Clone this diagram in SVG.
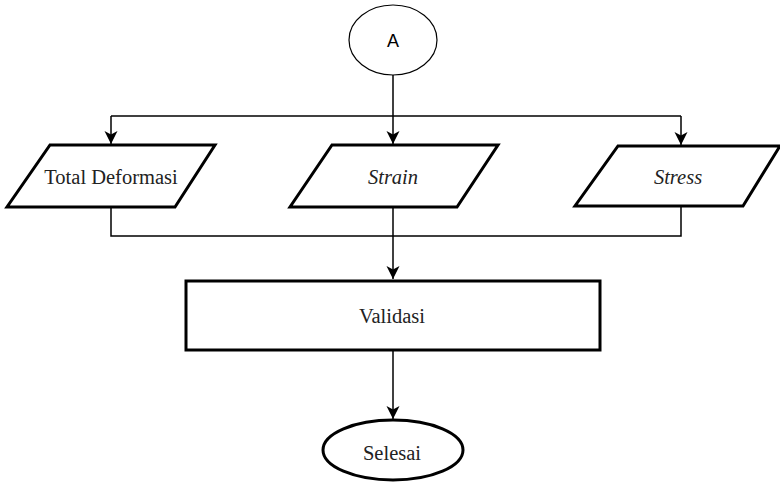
<svg xmlns="http://www.w3.org/2000/svg" width="780" height="484" viewBox="0 0 780 484">
<style>
.shape{fill:#fff;stroke:#000;stroke-width:3}
.thin{fill:#fff;stroke:#000;stroke-width:1.2}
.conn{fill:none;stroke:#000;stroke-width:1.5}
.serif{font-family:"Liberation Serif","Times New Roman",serif;font-size:20.5px;fill:#222;text-anchor:middle}
.it{font-style:italic}
.sans{font-family:"Liberation Sans",Arial,sans-serif;font-size:18px;fill:#000;text-anchor:middle}
</style>
<defs>
<marker id="arr" markerUnits="userSpaceOnUse" markerWidth="16" markerHeight="16" viewBox="-1 -8 16 16" refX="13" refY="0" orient="auto">
<path d="M0,-6.5 L13,0 L0,6.5 L3.5,0 z" fill="#000"/>
</marker>
</defs>
<rect width="780" height="484" fill="#fff"/>
<g id="connectors">
<path class="conn" d="M393,75 V144" marker-end="url(#arr)"/>
<path class="conn" d="M111,116 H681"/>
<path class="conn" d="M111,116 V144" marker-end="url(#arr)"/>
<path class="conn" d="M681,116 V145" marker-end="url(#arr)"/>
<path class="conn" d="M111,207 V236 H681 V205"/>
<path class="conn" d="M393,207 V279" marker-end="url(#arr)"/>
<path class="conn" d="M393,351 V419" marker-end="url(#arr)"/>
</g>
<g id="nodeA">
<ellipse class="thin" cx="393" cy="40" rx="44" ry="35"/>
<text class="sans" x="393" y="47">A</text>
</g>
<g id="nodeTotal">
<polygon class="shape" points="50,145 215,145 175,207 7,207"/>
<text class="serif" x="111" y="184">Total Deformasi</text>
</g>
<g id="nodeStrain">
<polygon class="shape" points="332,145 498,145 457,207 290,207"/>
<text class="serif it" x="393" y="184">Strain</text>
</g>
<g id="nodeStress">
<polygon class="shape" points="618,146 780,146 743,206 575,206"/>
<text class="serif it" x="678" y="184">Stress</text>
</g>
<g id="nodeValidasi">
<rect class="shape" x="186" y="281" width="414" height="69"/>
<text class="serif" x="392" y="323">Validasi</text>
</g>
<g id="nodeSelesai">
<ellipse class="shape" cx="393" cy="450" rx="70" ry="30"/>
<text class="serif" x="392" y="460">Selesai</text>
</g>
</svg>
